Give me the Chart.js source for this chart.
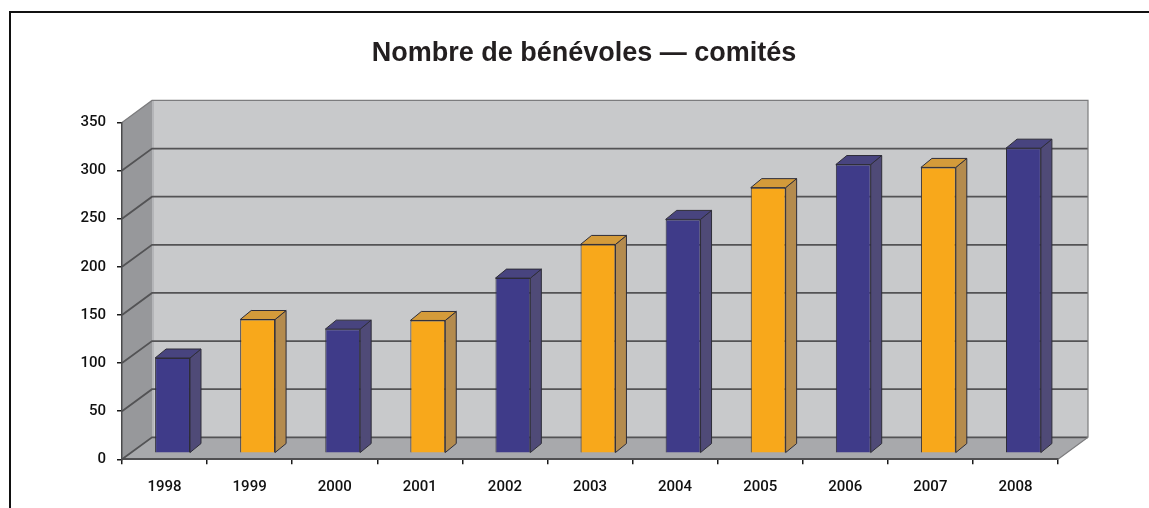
<!DOCTYPE html>
<html>
<head>
<meta charset="utf-8">
<script src="https://cdn.jsdelivr.net/npm/chart.js@4/dist/chart.umd.min.js"></script>
<style>
  html, body { margin: 0; padding: 0; background: #fff; }
  #wrap { width: 1149px; height: 508px; position: relative; }
</style>
</head>
<body>
<div id="wrap"><canvas id="c" width="1149" height="508"></canvas></div>
<script>
// ---- data ----
const categories = ['1998', '1999', '2000', '2001', '2002', '2003', '2004', '2005', '2006', '2007', '2008'];
const volunteers = [99, 139, 129, 138, 182, 217, 243, 276, 300, 297, 317];
const yMin = 0;
const yMax = 350;
const yStep = 50;
const chartTitle = 'Nombre de bénévoles — comités';

// ---- style ----
const FONT = '"Liberation Sans", Arial, Helvetica, sans-serif';
const TICK_FONT = 'Roboto, "Liberation Sans", Arial, sans-serif';
const WALL_D = { dx: 30, dy: -22 };   // depth of the 3D walls
const BAR_SHIFT = { dx: 8, dy: -6 };  // front face of bars inside the depth
const BAR_D = { dx: 11, dy: -9 };     // depth of each bar
const palette = {
  blue:   { front: '#3f3b89', side: '#4f4a77', top: '#48447f' },
  orange: { front: '#f8a81b', side: '#b48b4e', top: '#d49b3a' }
};
const colorFor = i => (i % 2 === 0 ? palette.blue : palette.orange);

const walls3d = {
  id: 'walls3d',
  afterLayout(chart) {
    // centre the title a little to the right, as in the original
    const tb = chart.titleBlock;
    if (tb) { tb.left = 110; tb.width = tb.right - tb.left; }
  },
  beforeDraw(chart) {
    const { ctx, chartArea: a, scales: { y } } = chart;
    const { dx, dy } = WALL_D;
    ctx.save();
    ctx.fillStyle = '#fff';
    ctx.fillRect(0, 0, chart.width, chart.height);
    // outer frame
    ctx.strokeStyle = '#111';
    ctx.lineWidth = 2;
    ctx.beginPath();
    ctx.moveTo(10, chart.height);
    ctx.lineTo(10, 12);
    ctx.lineTo(chart.width, 12);
    ctx.stroke();
    // back wall
    ctx.fillStyle = '#c8c9cb';
    ctx.fillRect(a.left + dx, a.top + dy, a.right - a.left, a.bottom - a.top);
    // left wall
    ctx.fillStyle = '#97989b';
    ctx.beginPath();
    ctx.moveTo(a.left, a.top);
    ctx.lineTo(a.left + dx, a.top + dy);
    ctx.lineTo(a.left + dx, a.bottom + dy);
    ctx.lineTo(a.left, a.bottom);
    ctx.closePath();
    ctx.fill();
    // floor
    ctx.fillStyle = '#a8a9ac';
    ctx.beginPath();
    ctx.moveTo(a.left, a.bottom);
    ctx.lineTo(a.left + dx, a.bottom + dy);
    ctx.lineTo(a.right + dx, a.bottom + dy);
    ctx.lineTo(a.right, a.bottom);
    ctx.closePath();
    ctx.fill();
    // light inner corner
    ctx.strokeStyle = '#b4b5b8';
    ctx.lineWidth = 2;
    ctx.beginPath();
    ctx.moveTo(a.left + dx + 1, a.top + dy);
    ctx.lineTo(a.left + dx + 1, a.bottom + dy);
    ctx.stroke();
    // gridlines
    ctx.strokeStyle = '#535355';
    ctx.lineWidth = 1.8;
    for (let v = yMin; v < yMax; v += yStep) {
      const py = y.getPixelForValue(v);
      ctx.beginPath();
      ctx.moveTo(a.left, py);
      ctx.lineTo(a.left + dx, py + dy);
      ctx.lineTo(a.right + dx, py + dy);
      ctx.stroke();
    }
    // outlines
    ctx.strokeStyle = '#7c7c7e';
    ctx.lineWidth = 1.2;
    ctx.beginPath();
    ctx.moveTo(a.left, a.top);
    ctx.lineTo(a.left + dx, a.top + dy);
    ctx.lineTo(a.right + dx, a.top + dy);
    ctx.lineTo(a.right + dx, a.bottom + dy);
    ctx.lineTo(a.right, a.bottom);
    ctx.stroke();
    ctx.restore();
  },
  beforeDatasetsDraw(chart) {
    chart.ctx.save();
    chart.ctx.translate(BAR_SHIFT.dx, BAR_SHIFT.dy);
  },
  afterDatasetsDraw(chart) {
    const ctx = chart.ctx;
    ctx.restore();
    const meta = chart.getDatasetMeta(0);
    ctx.save();
    ctx.lineWidth = 1;
    ctx.strokeStyle = '#2e2d38';
    ctx.lineJoin = 'round';
    meta.data.forEach((bar, i) => {
      const c = colorFor(i);
      const half = bar.width / 2;
      const l = bar.x - half + BAR_SHIFT.dx;
      const r = bar.x + half + BAR_SHIFT.dx;
      const t = bar.y + BAR_SHIFT.dy;
      const b = bar.base + BAR_SHIFT.dy;
      const { dx, dy } = BAR_D;
      // side
      ctx.fillStyle = c.side;
      ctx.beginPath();
      ctx.moveTo(r, t);
      ctx.lineTo(r + dx, t + dy);
      ctx.lineTo(r + dx, b + dy);
      ctx.lineTo(r, b);
      ctx.closePath();
      ctx.fill();
      ctx.stroke();
      // top
      ctx.fillStyle = c.top;
      ctx.beginPath();
      ctx.moveTo(l, t);
      ctx.lineTo(l + dx, t + dy);
      ctx.lineTo(r + dx, t + dy);
      ctx.lineTo(r, t);
      ctx.closePath();
      ctx.fill();
      ctx.stroke();
    });
    ctx.restore();
  }
};

new Chart(document.getElementById('c'), {
  type: 'bar',
  data: {
    labels: categories,
    datasets: [{
      label: 'Bénévoles',
      data: volunteers,
      backgroundColor: volunteers.map((_, i) => colorFor(i).front),
      borderColor: '#2e2d38',
      borderWidth: 1,
      categoryPercentage: 1,
      barPercentage: 0.41,
      clip: false
    }]
  },
  options: {
    responsive: false,
    animation: false,
    devicePixelRatio: 1,
    layout: { padding: { left: 0, right: 91, top: 0, bottom: 0 } },
    plugins: {
      legend: { display: false },
      tooltip: { enabled: false },
      title: {
        display: true,
        text: chartTitle,
        color: '#231f20',
        font: { family: FONT, size: 27, weight: 'bold', lineHeight: 1.2 },
        padding: { top: 37, bottom: 53 }
      }
    },
    scales: {
      x: {
        offset: true,
        grid: { display: true, offset: true, drawOnChartArea: false, drawTicks: true, tickLength: 5, color: '#1a1a1a', lineWidth: 1.5 },
        border: { display: true, color: '#505052', width: 2 },
        ticks: { color: '#111', font: { family: TICK_FONT, size: 15, weight: '500' }, padding: 14, maxRotation: 0, autoSkip: false },
        afterFit(scale) { scale.height = 48.7; }
      },
      y: {
        min: yMin,
        max: yMax,
        grid: { display: true, drawOnChartArea: false, drawTicks: true, tickLength: 5, color: '#1a1a1a', lineWidth: 1.5 },
        border: { display: true, color: '#4a4a4c', width: 1.5 },
        ticks: { stepSize: yStep, color: '#111', font: { family: TICK_FONT, size: 15, weight: '500' }, padding: 11 },
        afterFit(scale) { scale.width = 122; }
      }
    }
  },
  plugins: [walls3d]
});
</script>
</body>
</html>
